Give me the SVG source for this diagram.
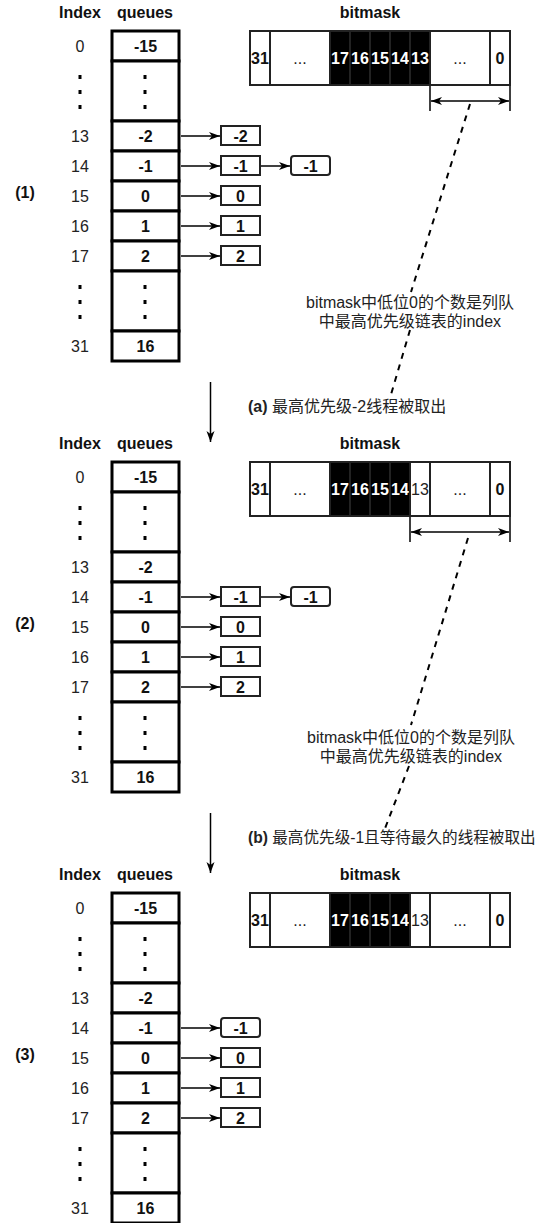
<svg xmlns="http://www.w3.org/2000/svg" width="541" height="1223" viewBox="0 0 541 1223">
<style>
.hdr{font-family:"Liberation Sans",Arial,sans-serif;font-weight:bold;font-size:16px;text-anchor:middle;fill:#111}
.idx{font-family:"Liberation Sans",Arial,sans-serif;font-size:16px;text-anchor:middle;fill:#222}
.val{font-family:"Liberation Sans",Arial,sans-serif;font-weight:bold;font-size:16px;text-anchor:middle;fill:#111}
.wv{font-family:"Liberation Sans",Arial,sans-serif;font-weight:bold;font-size:16px;text-anchor:middle;fill:#fff}
.cell{fill:#fff;stroke:#000;stroke-width:3}
.box{fill:#fff;stroke:#222;stroke-width:2}
.bm{fill:#fff;stroke:#222;stroke-width:2}
.bk{fill:#000;stroke:#222;stroke-width:2}
.dot{fill:#000}
.arr{stroke:#000;stroke-width:1.5;fill:none;marker-end:url(#ah)}
.dim{stroke:#000;stroke-width:1.5;fill:none;marker-start:url(#ah);marker-end:url(#ah)}
.tick{stroke:#000;stroke-width:1.5}
.dash{stroke:#000;stroke-width:2;stroke-dasharray:6 6;fill:none}
.cjk{font-family:"Liberation Sans","Noto Sans CJK SC",sans-serif;font-size:16px;fill:#222}
.cjkc{font-family:"Liberation Sans","Noto Sans CJK SC",sans-serif;font-size:16px;fill:#222;text-anchor:middle}
.lbl{font-family:"Liberation Sans",Arial,sans-serif;font-weight:bold;font-size:16px;text-anchor:middle;fill:#111}
</style>
<defs>
<marker id="ah" viewBox="0 0 12 10" refX="11" refY="5" markerWidth="12" markerHeight="10" markerUnits="userSpaceOnUse" orient="auto-start-reverse">
<path d="M0,1 L11,5 L0,9 L3,5 z" fill="#000"/>
</marker>
<g id="idxcol">
<text class="idx" x="80" y="51.5">0</text>
<rect class="dot" x="78.5" y="75" width="3" height="4"/>
<rect class="dot" x="78.5" y="90" width="3" height="4"/>
<rect class="dot" x="78.5" y="105" width="3" height="4"/>
<text class="idx" x="80" y="141.5">13</text>
<text class="idx" x="80" y="171.5">14</text>
<text class="idx" x="80" y="201.5">15</text>
<text class="idx" x="80" y="231.5">16</text>
<text class="idx" x="80" y="261.5">17</text>
<rect class="dot" x="78.5" y="285" width="3" height="4"/>
<rect class="dot" x="78.5" y="300" width="3" height="4"/>
<rect class="dot" x="78.5" y="315" width="3" height="4"/>
<text class="idx" x="80" y="351.5">31</text>
</g>
<g id="queuecol">
<rect class="cell" x="112" y="31" width="67" height="30"/>
<rect class="cell" x="112" y="61" width="67" height="60"/>
<rect class="cell" x="112" y="121" width="67" height="30"/>
<rect class="cell" x="112" y="151" width="67" height="30"/>
<rect class="cell" x="112" y="181" width="67" height="30"/>
<rect class="cell" x="112" y="211" width="67" height="30"/>
<rect class="cell" x="112" y="241" width="67" height="30"/>
<rect class="cell" x="112" y="271" width="67" height="60"/>
<rect class="cell" x="112" y="331" width="67" height="30"/>
<text class="val" x="145.5" y="52">-15</text>
<rect class="dot" x="143.5" y="75" width="3" height="4"/>
<rect class="dot" x="143.5" y="90" width="3" height="4"/>
<rect class="dot" x="143.5" y="105" width="3" height="4"/>
<text class="val" x="145.5" y="142">-2</text>
<text class="val" x="145.5" y="172">-1</text>
<text class="val" x="145.5" y="202">0</text>
<text class="val" x="145.5" y="232">1</text>
<text class="val" x="145.5" y="262">2</text>
<rect class="dot" x="143.5" y="285" width="3" height="4"/>
<rect class="dot" x="143.5" y="300" width="3" height="4"/>
<rect class="dot" x="143.5" y="315" width="3" height="4"/>
<text class="val" x="145.5" y="352">16</text>
</g>
<g id="hdrs">
<text class="hdr" x="80" y="18">Index</text>
<text class="hdr" x="145" y="18">queues</text>
<text class="hdr" x="370" y="18">bitmask</text>
</g>
</defs>

<!-- ===== Section 1 ===== -->
<g id="section1">
<use href="#hdrs"/>
<g id="s1-index"><use href="#idxcol"/></g>
<g id="s1-queues"><use href="#queuecol"/></g>
<g id="s1-node-13"><rect class="box" x="221" y="126" width="39" height="19"/><text class="val" x="240.5" y="141.5">-2</text></g>
<g id="s1-node-14a"><rect class="box" x="221" y="156" width="39" height="19"/><text class="val" x="240.5" y="171.5">-1</text></g>
<g id="s1-node-14b"><rect class="box" x="291" y="156" width="39" height="19" rx="3"/><text class="val" x="310.5" y="171.5">-1</text></g>
<g id="s1-node-15"><rect class="box" x="221" y="186" width="39" height="19"/><text class="val" x="240.5" y="201.5">0</text></g>
<g id="s1-node-16"><rect class="box" x="221" y="216" width="39" height="19"/><text class="val" x="240.5" y="231.5">1</text></g>
<g id="s1-node-17"><rect class="box" x="221" y="246" width="39" height="19"/><text class="val" x="240.5" y="261.5">2</text></g>
<g id="s1-bitmask">
<rect class="bm" x="250" y="31" width="20" height="54"/><text class="val" x="260" y="64">31</text>
<rect class="bm" x="270" y="31" width="60" height="54"/><text class="idx" x="300" y="64">...</text>
<rect class="bk" x="330" y="31" width="20" height="54"/><text class="wv" x="340" y="64">17</text>
<rect class="bk" x="350" y="31" width="20" height="54"/><text class="wv" x="360" y="64">16</text>
<rect class="bk" x="370" y="31" width="20" height="54"/><text class="wv" x="380" y="64">15</text>
<rect class="bk" x="390" y="31" width="20" height="54"/><text class="wv" x="400" y="64">14</text>
<rect class="bk" x="410" y="31" width="20" height="54"/><text class="wv" x="420" y="64">13</text>
<rect class="bm" x="430" y="31" width="60" height="54"/><text class="idx" x="460" y="64">...</text>
<rect class="bm" x="490" y="31" width="20" height="54"/><text class="val" x="500" y="64">0</text>
</g>
<g id="s1-label"><text class="lbl" x="25" y="198">(1)</text></g>
<g id="s1-note">
<text class="cjkc" x="410" y="308">bitmask中低位0的个数是列队</text>
<text class="cjkc" x="410" y="327">中最高优先级链表的index</text>
</g>
<g id="step-a"><text class="cjk" x="248" y="412"><tspan font-weight="bold">(a)</tspan> 最高优先级-2线程被取出</text></g>
<g id="s1-connectors">
<line class="arr" x1="181" y1="136" x2="220" y2="136"/>
<line class="arr" x1="181" y1="166" x2="220" y2="166"/>
<line class="arr" x1="261" y1="166" x2="290" y2="166"/>
<line class="arr" x1="181" y1="196" x2="220" y2="196"/>
<line class="arr" x1="181" y1="226" x2="220" y2="226"/>
<line class="arr" x1="181" y1="256" x2="220" y2="256"/>
<line class="tick" x1="430" y1="86" x2="430" y2="111"/>
<line class="tick" x1="510" y1="86" x2="510" y2="111"/>
<line class="dim" x1="431" y1="101" x2="509" y2="101"/>
<path class="dash" d="M470,104 L411,292 M410,330 L390,398"/>
<line class="arr" x1="210.5" y1="382" x2="210.5" y2="442"/>
</g>
</g>

<!-- ===== Section 2 ===== -->
<g id="section2" transform="translate(0,431)">
<use href="#hdrs"/>
<g id="s2-index"><use href="#idxcol"/></g>
<g id="s2-queues"><use href="#queuecol"/></g>
<g id="s2-node-14a"><rect class="box" x="221" y="156" width="39" height="19"/><text class="val" x="240.5" y="171.5">-1</text></g>
<g id="s2-node-14b"><rect class="box" x="291" y="156" width="39" height="19" rx="3"/><text class="val" x="310.5" y="171.5">-1</text></g>
<g id="s2-node-15"><rect class="box" x="221" y="186" width="39" height="19"/><text class="val" x="240.5" y="201.5">0</text></g>
<g id="s2-node-16"><rect class="box" x="221" y="216" width="39" height="19"/><text class="val" x="240.5" y="231.5">1</text></g>
<g id="s2-node-17"><rect class="box" x="221" y="246" width="39" height="19"/><text class="val" x="240.5" y="261.5">2</text></g>
<g id="s2-bitmask">
<rect class="bm" x="250" y="31" width="20" height="54"/><text class="val" x="260" y="64">31</text>
<rect class="bm" x="270" y="31" width="60" height="54"/><text class="idx" x="300" y="64">...</text>
<rect class="bk" x="330" y="31" width="20" height="54"/><text class="wv" x="340" y="64">17</text>
<rect class="bk" x="350" y="31" width="20" height="54"/><text class="wv" x="360" y="64">16</text>
<rect class="bk" x="370" y="31" width="20" height="54"/><text class="wv" x="380" y="64">15</text>
<rect class="bk" x="390" y="31" width="20" height="54"/><text class="wv" x="400" y="64">14</text>
<rect class="bm" x="410" y="31" width="20" height="54"/><text class="idx" x="420" y="64">13</text>
<rect class="bm" x="430" y="31" width="60" height="54"/><text class="idx" x="460" y="64">...</text>
<rect class="bm" x="490" y="31" width="20" height="54"/><text class="val" x="500" y="64">0</text>
</g>
<g id="s2-label"><text class="lbl" x="25" y="198">(2)</text></g>
<g id="s2-note">
<text class="cjkc" x="411" y="312">bitmask中低位0的个数是列队</text>
<text class="cjkc" x="411" y="331">中最高优先级链表的index</text>
</g>
<g id="step-b"><text class="cjk" x="248" y="412" style="font-size:15.6px"><tspan font-weight="bold">(b)</tspan> 最高优先级-1且等待最久的线程被取出</text></g>
<g id="s2-connectors">
<line class="arr" x1="181" y1="166" x2="220" y2="166"/>
<line class="arr" x1="261" y1="166" x2="290" y2="166"/>
<line class="arr" x1="181" y1="196" x2="220" y2="196"/>
<line class="arr" x1="181" y1="226" x2="220" y2="226"/>
<line class="arr" x1="181" y1="256" x2="220" y2="256"/>
<line class="tick" x1="410" y1="86" x2="410" y2="111"/>
<line class="tick" x1="510" y1="86" x2="510" y2="111"/>
<line class="dim" x1="411" y1="101" x2="509" y2="101"/>
<path class="dash" d="M468,107 L411,294 M409,335 L384,400"/>
<line class="arr" x1="210.5" y1="382" x2="210.5" y2="442"/>
</g>
</g>

<!-- ===== Section 3 ===== -->
<g id="section3" transform="translate(0,862)">
<use href="#hdrs"/>
<g id="s3-index"><use href="#idxcol"/></g>
<g id="s3-queues"><use href="#queuecol"/></g>
<g id="s3-node-14"><rect class="box" x="221" y="156" width="39" height="19" rx="3"/><text class="val" x="240.5" y="171.5">-1</text></g>
<g id="s3-node-15"><rect class="box" x="221" y="186" width="39" height="19"/><text class="val" x="240.5" y="201.5">0</text></g>
<g id="s3-node-16"><rect class="box" x="221" y="216" width="39" height="19"/><text class="val" x="240.5" y="231.5">1</text></g>
<g id="s3-node-17"><rect class="box" x="221" y="246" width="39" height="19"/><text class="val" x="240.5" y="261.5">2</text></g>
<g id="s3-bitmask">
<rect class="bm" x="250" y="31" width="20" height="54"/><text class="val" x="260" y="64">31</text>
<rect class="bm" x="270" y="31" width="60" height="54"/><text class="idx" x="300" y="64">...</text>
<rect class="bk" x="330" y="31" width="20" height="54"/><text class="wv" x="340" y="64">17</text>
<rect class="bk" x="350" y="31" width="20" height="54"/><text class="wv" x="360" y="64">16</text>
<rect class="bk" x="370" y="31" width="20" height="54"/><text class="wv" x="380" y="64">15</text>
<rect class="bk" x="390" y="31" width="20" height="54"/><text class="wv" x="400" y="64">14</text>
<rect class="bm" x="410" y="31" width="20" height="54"/><text class="idx" x="420" y="64">13</text>
<rect class="bm" x="430" y="31" width="60" height="54"/><text class="idx" x="460" y="64">...</text>
<rect class="bm" x="490" y="31" width="20" height="54"/><text class="val" x="500" y="64">0</text>
</g>
<g id="s3-label"><text class="lbl" x="25" y="198">(3)</text></g>
<g id="s3-connectors">
<line class="arr" x1="181" y1="166" x2="220" y2="166"/>
<line class="arr" x1="181" y1="196" x2="220" y2="196"/>
<line class="arr" x1="181" y1="226" x2="220" y2="226"/>
<line class="arr" x1="181" y1="256" x2="220" y2="256"/>
</g>
</g>
</svg>
